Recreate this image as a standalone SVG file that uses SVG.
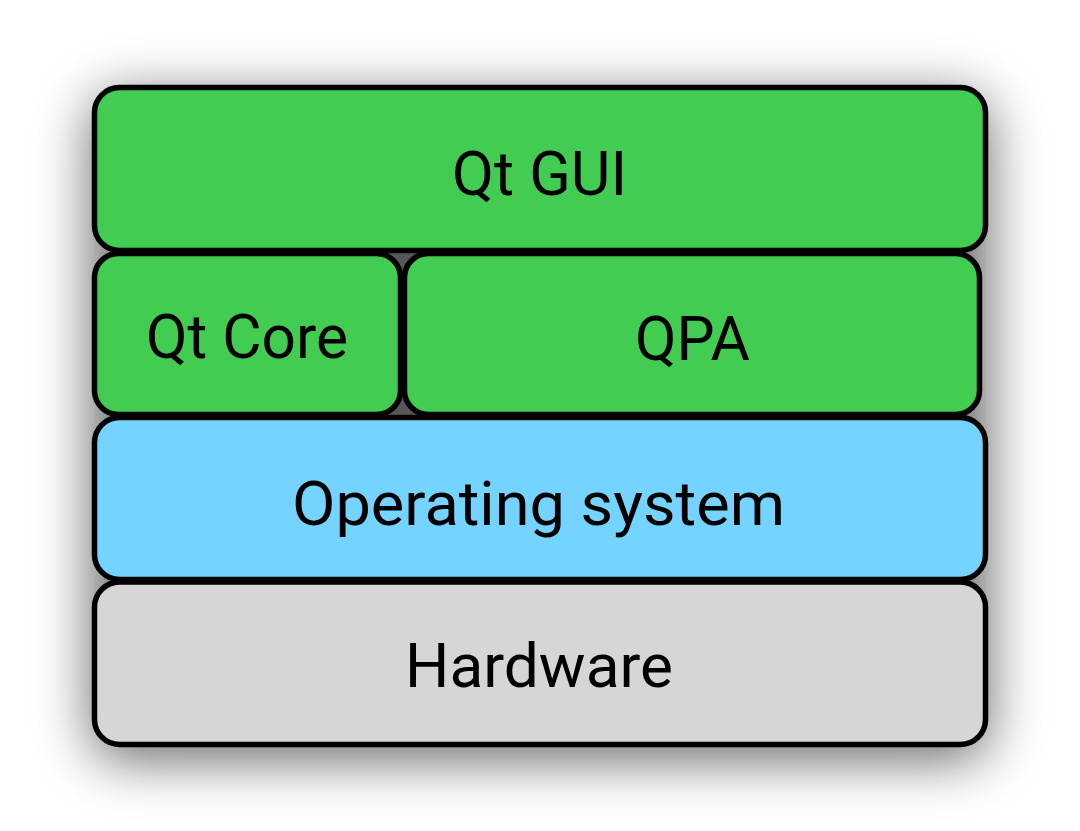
<svg xmlns="http://www.w3.org/2000/svg" width="1080" height="831" viewBox="0 0 1080 831">
  <defs>
    <filter id="shadow" x="-30%" y="-30%" width="160%" height="160%">
      <feGaussianBlur in="SourceAlpha" stdDeviation="28"/>
      <feOffset dx="0" dy="12"/>
      <feComponentTransfer><feFuncA type="linear" slope="0.6"/></feComponentTransfer>
    </filter>
    <style>
      .box { stroke: #000; stroke-width: 5.5; }
      .green { fill: #42CD52; }
      .blue { fill: #75D4FF; }
      .gray { fill: #D6D6D6; }
      .lbl { font-family: Roboto, "Open Sans", sans-serif; font-size: 62px; fill: #000; text-anchor: middle; }
    </style>
  </defs>
  <rect width="1080" height="831" fill="#ffffff"/>
  <rect id="shadow-shape" x="92" y="85" width="896" height="662" rx="28" fill="#000" filter="url(#shadow)"/>
  <rect id="backing" x="130" y="110" width="820" height="610" fill="#585858"/>
  <g id="qt-gui">
    <rect class="box green" x="94.5" y="87.5" width="891" height="163" rx="25"/>
    <text class="lbl" x="539.5" y="195" textLength="175" lengthAdjust="spacingAndGlyphs">Qt GUI</text>
  </g>
  <g id="qt-core">
    <rect class="box green" x="94.5" y="253.5" width="306" height="161" rx="24"/>
    <text class="lbl" x="247" y="358" textLength="202" lengthAdjust="spacingAndGlyphs">Qt Core</text>
  </g>
  <g id="qpa">
    <rect class="box green" x="404.5" y="253.5" width="575" height="161" rx="24"/>
    <text class="lbl" x="692.5" y="360" textLength="115" lengthAdjust="spacingAndGlyphs">QPA</text>
  </g>
  <g id="operating-system">
    <rect class="box blue" x="94.5" y="417.5" width="891" height="162" rx="25"/>
    <text class="lbl" x="538.5" y="525" textLength="493" lengthAdjust="spacingAndGlyphs">Operating system</text>
  </g>
  <g id="hardware">
    <rect class="box gray" x="94.5" y="582" width="891" height="162.5" rx="25"/>
    <text class="lbl" x="539" y="687" textLength="268" lengthAdjust="spacingAndGlyphs">Hardware</text>
  </g>
  <g id="connectors"/>
</svg>
